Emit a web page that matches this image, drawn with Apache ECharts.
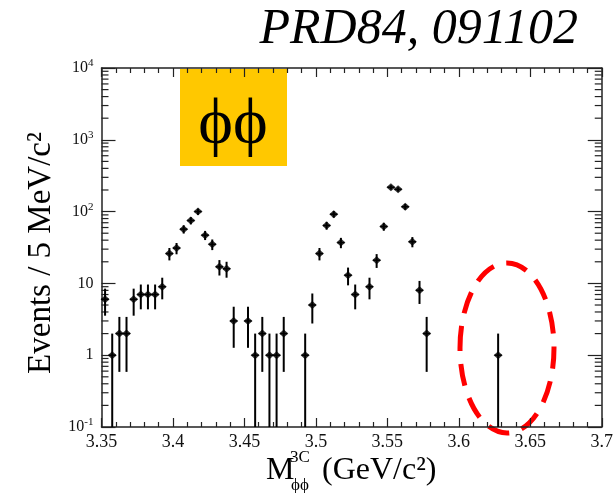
<!DOCTYPE html>
<html>
<head>
<meta charset="utf-8">
<script src="https://cdn.jsdelivr.net/npm/echarts@6/dist/echarts.min.js"></script>
<style>
  html, body { margin: 0; padding: 0; background: #fff; }
  #main { width: 616px; height: 493px; }
</style>
</head>
<body>
<div id="main"></div>
<script>
// bin centres (GeV/c^2), 5 MeV bins; empty bins are not listed
const massBins = [3.3525, 3.3575, 3.3625, 3.3675, 3.3725, 3.3775, 3.3825, 3.3875, 3.3925, 3.3975,
  3.4025, 3.4075, 3.4125, 3.4175, 3.4225, 3.4275, 3.4325, 3.4375, 3.4425, 3.4525,
  3.4575, 3.4625, 3.4675, 3.4725, 3.4775, 3.4925, 3.4975, 3.5025, 3.5075, 3.5125,
  3.5175, 3.5225, 3.5275, 3.5375, 3.5425, 3.5475, 3.5525, 3.5575, 3.5625, 3.5675,
  3.5725, 3.5775, 3.6275]
const counts = [6, 1, 2, 2, 6, 7, 7, 7, 9, 26,
  31, 57, 75, 100, 47, 35, 17, 16, 3, 3,
  1, 2, 1, 1, 2, 1, 5, 26, 64, 92,
  37, 13, 7, 9, 21, 62, 218, 204, 117, 38,
  8, 2, 1]
const binWidth = 0.005
const xTicks = [3.35, 3.4, 3.45, 3.5, 3.55, 3.6, 3.65, 3.7]
const yDecades = [0.1, 1, 10, 100, 1000, 10000]

const serif = '"Liberation Serif", "DejaVu Serif", serif'
const points = massBins.map((m, i) => [m, counts[i]])

// minor log ticks 2..9 of each decade
const minorVals = []
yDecades.slice(0, -1).forEach(d => {
  for (let k = 2; k <= 9; k++) minorVals.push([3.35, d * k])
})

const myChart = echarts.init(document.getElementById('main'))

function xAxisCfg(pos) {
  return {
    type: 'value', position: pos,
    min: xTicks[0], max: xTicks[xTicks.length - 1], interval: 0.05,
    axisLine: { show: true, lineStyle: { color: '#222', width: 1.5 } },
    axisTick: { show: true, inside: true, length: 9, lineStyle: { color: '#222', width: 1.2 } },
    minorTick: { show: true, splitNumber: 5, length: 5, lineStyle: { color: '#222', width: 1.2 } },
    splitLine: { show: false },
    axisLabel: pos === 'bottom' ? {
      show: true, margin: 6, color: '#111', fontFamily: serif, fontSize: 18,
      formatter: v => String(+v.toFixed(2))
    } : { show: false }
  }
}

function yAxisCfg(pos) {
  return {
    type: 'log', logBase: 10, position: pos,
    min: yDecades[0], max: yDecades[yDecades.length - 1],
    axisLine: { show: true, lineStyle: { color: '#222', width: 1.5 } },
    axisTick: { show: true, inside: true, length: 14, lineStyle: { color: '#222', width: 1.2 } },
    splitLine: { show: false },
    axisLabel: pos === 'left' ? {
      show: true, margin: 8, color: '#111', fontFamily: serif,
      formatter: v => {
        const e = Math.round(Math.log10(v))
        if (e === 0) return '{b|1}'
        if (e === 1) return '{b|10}'
        return '{b|10}{s|' + e + '}'
      },
      rich: {
        b: { fontFamily: serif, fontSize: 16, lineHeight: 20, color: '#111' },
        s: { fontFamily: serif, fontSize: 11, lineHeight: 11, verticalAlign: 'top', color: '#111' }
      }
    } : { show: false }
  }
}

const option = {
  animation: false,
  backgroundColor: '#fff',
  grid: { left: 101.5, right: 13, top: 68, bottom: 66, show: false },
  xAxis: [xAxisCfg('bottom'), xAxisCfg('top')],
  yAxis: [yAxisCfg('left'), yAxisCfg('right')],
  series: [
    {
      // minor ticks on both log axes
      type: 'custom', data: minorVals, silent: true,
      renderItem: (params, api) => {
        const cs = params.coordSys
        const y = api.coord([3.35, api.value(1)])[1]
        return {
          type: 'group', children: [
            { type: 'line', shape: { x1: cs.x, y1: y, x2: cs.x + 7, y2: y }, style: { stroke: '#222', lineWidth: 1.2 } },
            { type: 'line', shape: { x1: cs.x + cs.width - 7, y1: y, x2: cs.x + cs.width, y2: y }, style: { stroke: '#222', lineWidth: 1.2 } }
          ]
        }
      }
    },
    {
      // sqrt(N) error bars
      type: 'custom', data: points, clip: true,
      renderItem: (params, api) => {
        const m = api.value(0), n = api.value(1)
        const err = Math.sqrt(n)
        const lo = Math.max(n - err, yDecades[0])
        const top = api.coord([m, n + err])
        const bot = api.coord([m, lo])
        const l = api.coord([m - binWidth / 2, n])
        const r = api.coord([m + binWidth / 2, n])
        return {
          type: 'group', children: [
            { type: 'line', shape: { x1: top[0], y1: top[1], x2: bot[0], y2: bot[1] }, style: { stroke: '#000', lineWidth: 2 } },
            { type: 'line', shape: { x1: l[0], y1: l[1], x2: r[0], y2: r[1] }, style: { stroke: '#000', lineWidth: 1.5 } }
          ]
        }
      }
    },
    {
      type: 'scatter', data: points, symbol: 'diamond', symbolSize: [9, 8],
      itemStyle: { color: '#000' }
    }
  ],
  graphic: [
    {
      type: 'text', x: 578, y: 30,
      style: { text: 'PRD84, 091102', font: 'italic 50px ' + serif, fill: '#000', textAlign: 'right', textVerticalAlign: 'middle', verticalAlign: 'middle' }
    },
    { type: 'rect', shape: { x: 180, y: 69, width: 107, height: 97 }, style: { fill: '#FFC800' } },
    {
      type: 'text', x: 233, y: 126,
      style: { text: 'ϕϕ', font: '66px ' + serif, fill: '#000', textAlign: 'center', textVerticalAlign: 'middle', verticalAlign: 'middle' }
    },
    {
      type: 'ellipse', shape: { cx: 507, cy: 348, rx: 47, ry: 85 },
      style: { fill: null, stroke: '#FF0000', lineWidth: 5, lineDash: [22, 13] }
    },
    {
      type: 'text', x: 41, y: 253, rotation: Math.PI / 2,
      style: { text: 'Events / 5 MeV/c²', font: '33px ' + serif, fill: '#000', textAlign: 'center', textVerticalAlign: 'middle', verticalAlign: 'middle' }
    },
    { type: 'text', x: 266, y: 471, style: { text: 'M', font: '32px ' + serif, fill: '#000', textAlign: 'left', textVerticalAlign: 'middle', verticalAlign: 'middle' } },
    { type: 'text', x: 290, y: 458, style: { text: '3C', font: '17px ' + serif, fill: '#000', textAlign: 'left', textVerticalAlign: 'middle', verticalAlign: 'middle' } },
    { type: 'text', x: 291, y: 486, style: { text: 'ϕϕ', font: '17px ' + serif, fill: '#000', textAlign: 'left', textVerticalAlign: 'middle', verticalAlign: 'middle' } },
    { type: 'text', x: 322, y: 471, style: { text: '(GeV/c²)', font: '32px ' + serif, fill: '#000', textAlign: 'left', textVerticalAlign: 'middle', verticalAlign: 'middle' } }
  ]
}
myChart.setOption(option)
</script>
</body>
</html>
